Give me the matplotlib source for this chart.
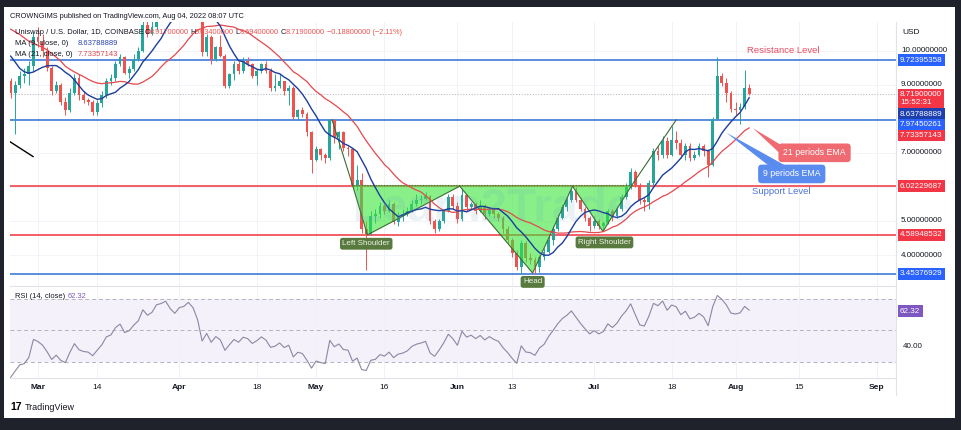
import numpy as np
import pandas as pd
import matplotlib
matplotlib.use('Agg')
import matplotlib.pyplot as plt
import matplotlib.dates as mdates
from matplotlib.patches import Rectangle, Polygon
from matplotlib.lines import Line2D

plt.rcParams['font.family'] = ['Liberation Sans', 'DejaVu Sans']

# ---------------------------------------------------------------------
# Data (UNI/USD daily, Coinbase)
# ---------------------------------------------------------------------

# closes before the first visible candle, only used to warm up MA / RSI
warmup_close = [11.00, 10.60, 10.90, 11.40, 11.70, 11.50, 11.60, 11.30, 11.00, 11.10,
                11.20, 10.90, 11.45, 10.60, 10.90, 10.20, 9.90, 10.10, 9.60, 9.40, 9.10]

first_open = 9.10

close_feb = [8.75, 9.00, 9.25, 9.30, 9.55, 10.40]
close_mar = [10.25, 10.00, 9.50, 8.80, 9.00, 8.50, 8.27, 8.75, 9.20, 8.70,
             8.55, 8.50, 8.20, 8.45, 8.70, 9.10, 9.20, 9.60, 9.80, 9.35,
             9.45, 9.75, 10.00, 10.75, 10.50, 10.70, 11.30, 11.40, 11.60, 11.30, 11.10]
close_apr = [11.50, 11.60, 11.90, 11.70, 11.20, 9.95, 10.40, 9.75, 10.10, 9.85,
             8.97, 9.30, 9.62, 9.40, 9.70, 9.60, 9.25, 9.40, 9.60, 9.40,
             8.90, 8.95, 9.10, 8.80, 8.90, 8.05, 8.25, 8.15, 7.60, 6.80]
close_may = [7.10, 6.95, 6.85, 7.95, 7.45, 7.60, 7.15, 7.10, 6.05, 6.20,
             4.75, 4.62, 5.15, 5.20, 5.45, 5.30, 5.50, 4.98, 5.15, 5.20,
             5.30, 5.50, 5.60, 5.65, 5.72, 5.00, 4.75, 5.00, 5.30, 5.70, 5.45]
close_jun = [5.05, 5.75, 5.40, 5.50, 5.30, 5.45, 5.20, 5.35, 5.20, 5.10,
             4.75, 4.45, 4.05, 3.65, 4.35, 3.90, 3.85, 3.65, 3.95, 4.10,
             4.45, 4.75, 5.10, 5.40, 5.60, 5.88, 5.62, 5.35, 5.10, 4.85]
close_jul = [5.00, 4.85, 4.95, 5.30, 5.15, 5.35, 5.70, 6.00, 6.45, 6.05,
             5.60, 5.55, 6.10, 7.05, 6.95, 7.35, 6.95, 7.38, 7.30, 6.95,
             7.20, 6.85, 6.95, 7.20, 7.05, 6.65, 8.00, 9.25, 9.05, 8.75, 8.30]
close_aug = [8.25, 8.35, 8.907, 8.719]

high_feb = [9.20, 9.10, 9.40, 9.50, 9.70, 10.55]
high_mar = [10.70, 10.50, 10.10, 9.55, 9.10, 9.05, 8.65, 8.90, 9.30, 9.30,
            8.80, 8.60, 8.55, 8.55, 8.80, 9.20, 9.30, 9.70, 9.90, 9.85,
            9.55, 9.90, 10.10, 10.90, 11.00, 10.90, 11.50, 11.90, 11.90, 11.70, 11.60]
high_apr = [11.70, 12.00, 12.10, 12.00, 11.80, 11.25, 10.50, 10.45, 10.15, 10.45,
            9.90, 9.35, 9.70, 9.70, 9.80, 9.80, 9.65, 9.45, 9.65, 9.70,
            9.50, 9.30, 9.30, 9.10, 9.00, 8.95, 8.30, 8.35, 8.20, 7.65]
high_may = [7.20, 7.15, 7.00, 8.00, 8.00, 7.65, 7.65, 7.20, 7.15, 6.65,
            6.40, 5.00, 5.30, 5.35, 5.55, 5.50, 5.60, 5.55, 5.25, 5.35,
            5.40, 5.60, 5.80, 5.75, 5.85, 5.75, 5.05, 5.05, 5.35, 5.80, 5.80]
high_jun = [5.55, 5.95, 5.80, 5.55, 5.55, 5.60, 5.50, 5.40, 5.40, 5.25,
            5.15, 4.85, 4.50, 4.15, 4.45, 4.40, 4.05, 3.95, 4.00, 4.20,
            4.55, 4.85, 5.20, 5.50, 5.70, 5.95, 6.00, 5.70, 5.40, 5.15]
high_jul = [5.15, 5.05, 5.00, 5.35, 5.35, 5.45, 5.80, 6.10, 6.55, 6.50,
            6.10, 5.70, 6.20, 7.15, 7.20, 7.50, 7.45, 7.80, 7.65, 7.40,
            7.30, 7.30, 7.05, 7.30, 7.25, 7.10, 8.05, 9.82, 9.35, 9.20, 8.80]
high_aug = [8.50, 8.45, 9.42, 9.03]

low_feb = [8.60, 7.55, 8.90, 9.05, 9.00, 9.40]
low_mar = [10.10, 9.80, 9.40, 8.70, 8.75, 8.40, 8.10, 8.20, 8.70, 8.55,
           8.45, 8.40, 8.10, 8.10, 8.35, 8.60, 9.00, 9.10, 9.55, 9.30,
           9.20, 9.40, 9.70, 9.95, 10.40, 10.45, 10.60, 11.10, 11.20, 11.10, 10.95]
low_apr = [10.95, 11.30, 11.40, 11.20, 11.00, 9.85, 9.85, 9.60, 9.70, 9.80,
           8.90, 8.90, 9.15, 9.30, 9.35, 9.55, 9.20, 9.00, 9.35, 9.35,
           8.80, 8.80, 8.90, 8.70, 8.40, 8.00, 7.95, 8.05, 7.50, 6.41]
low_may = [6.75, 6.80, 6.70, 6.80, 7.30, 7.10, 7.05, 6.90, 5.95, 5.90,
           4.65, 3.56, 4.60, 4.95, 5.10, 5.20, 5.25, 4.90, 4.85, 5.00,
           5.15, 5.25, 5.45, 5.50, 5.60, 4.90, 4.65, 4.70, 4.95, 5.25, 5.35]
low_jun = [4.95, 5.00, 5.30, 5.35, 5.20, 5.25, 5.05, 5.15, 5.10, 5.00,
           4.65, 4.35, 3.95, 3.55, 3.45, 3.80, 3.75, 3.45, 3.50, 3.85,
           4.05, 4.30, 4.70, 5.05, 5.30, 5.55, 5.55, 5.30, 5.00, 4.70]
low_jul = [4.80, 4.75, 4.70, 4.90, 5.00, 5.10, 5.30, 5.65, 5.95, 6.00,
           5.50, 5.30, 5.35, 6.05, 6.80, 6.85, 6.85, 6.90, 7.10, 6.85,
           6.80, 6.75, 6.80, 6.90, 6.90, 6.30, 6.60, 7.95, 8.95, 8.50, 8.20]
low_aug = [8.10, 7.85, 8.30, 8.694]

# horizontal levels drawn on the chart
level_values = [9.72395358, 7.97450261, 6.02229687, 4.58948532, 3.45376929]
level_colors = ['#2f6fd6', '#2f6fd6', '#f0313f', '#f0313f', '#2f6fd6']

# inverse head & shoulders outline
pattern_dates = ['2022-05-09 00:00', '2022-05-12 06:00', '2022-06-01 12:00', '2022-06-17 12:00',
                 '2022-06-26 06:00', '2022-07-02 22:00', '2022-07-09 06:00']
pattern_prices = [6.05, 4.59, 6.02, 3.47, 6.02, 4.69, 6.05]
lead_in = (['2022-05-04 12:00', '2022-05-09 00:00'], [7.97, 6.05])
lead_out = (['2022-07-09 06:00', '2022-07-19 00:00'], [6.05, 7.97])
black_line = (['2022-02-22 22:00', '2022-02-27 22:00'], [7.32, 6.89])

price_ticks = [10, 9, 7, 5, 4]
date_ticks = ['2022-03-01', '2022-03-14', '2022-04-01', '2022-04-18', '2022-05-01',
              '2022-05-16', '2022-06-01', '2022-06-13', '2022-07-01', '2022-07-18',
              '2022-08-01', '2022-08-15', '2022-09-01']
date_labels = ['Mar', '14', 'Apr', '18', 'May', '16', 'Jun', '13', 'Jul', '18',
               'Aug', '15', 'Sep']

ma9_last = 8.63788889
ma21_last = 7.73357143
rsi_last = 62.32

# ---------------------------------------------------------------------


def dnum(s):
    return mdates.date2num(pd.Timestamp(s))


def dnums(lst):
    return np.array([dnum(s) for s in lst])


close = np.array(close_feb + close_mar + close_apr + close_may + close_jun + close_jul + close_aug)
high = np.array(high_feb + high_mar + high_apr + high_may + high_jun + high_jul + high_aug)
low = np.array(low_feb + low_mar + low_apr + low_may + low_jun + low_jul + low_aug)
open_ = np.concatenate([[first_open], close[:-1]])
high = np.maximum(high, np.maximum(open_, close))
low = np.minimum(low, np.minimum(open_, close))

dates = pd.date_range('2022-02-23', periods=len(close), freq='D')
x = mdates.date2num(dates)

allc = pd.Series(warmup_close + list(close))
nw = len(warmup_close)
ma9 = allc.rolling(9).mean().iloc[nw:].values
ma21 = allc.rolling(21).mean().iloc[nw:].values

delta = allc.diff()
gain = delta.clip(lower=0).ewm(alpha=1 / 14, adjust=False).mean()
loss = (-delta.clip(upper=0)).ewm(alpha=1 / 14, adjust=False).mean()
rsi = (100 - 100 / (1 + gain / loss)).iloc[nw:].values

W, H = 961, 430
UP, DOWN = '#26a69a', '#ef5350'
TXT = '#131722'


def fy(py):
    return 1 - py / H


fig = plt.figure(figsize=(W / 100, H / 100), dpi=100, facecolor='#1f222b')
fig.add_artist(Rectangle((4 / W, fy(418)), 951 / W, 411 / H, transform=fig.transFigure,
                         fc='white', ec='none', zorder=0))

ax = fig.add_axes([10 / W, fy(286), 886 / W, 264 / H])
rx = fig.add_axes([10 / W, fy(378), 886 / W, 90 / H], sharex=ax)

day0 = dnum('2022-03-01')
ax.set_xlim(day0 - 6.14, day0 + 188.2)
ax.set_ylim(3.09, 10.84)

# candles
cols = np.where(close >= open_, UP, DOWN)
ax.vlines(x, low, high, colors=cols, lw=0.7, zorder=3)
ax.bar(x, np.maximum(np.abs(close - open_), 0.015), bottom=np.minimum(open_, close),
       width=0.62, color=cols, lw=0, zorder=3)

# levels + last price line
for v, c in zip(level_values, level_colors):
    ax.axhline(v, color=c, lw=1.1, zorder=2)
ax.axhline(close[-1], color='#b8bcc6', lw=0.8, ls=(0, (1, 1.5)), zorder=2)

# pattern
pdn = dnums(pattern_dates)
ax.fill(pdn, pattern_prices, color='#3ae63a', alpha=0.6, lw=0, zorder=4)
ax.plot(pdn, pattern_prices, color='#3c6b33', lw=0.8, zorder=4)
ax.plot([pdn[0], pdn[-1]], [pattern_prices[0], pattern_prices[-1]], color='#3c6b33',
        lw=0.8, ls=(0, (1, 1.5)), zorder=4)
for seg in (lead_in, lead_out):
    ax.plot(dnums(seg[0]), seg[1], color='#3c6b33', lw=0.8, zorder=4)
ax.plot(dnums(black_line[0]), black_line[1], color='black', lw=1.0, zorder=4)

# moving averages
ax.plot(x, ma21, color='#e5484d', lw=0.9, zorder=5)
ax.plot(x, ma9, color='#1c3d9c', lw=1.0, zorder=5)

# watermark
ax.text(day0 + 100, 5.35, 'Learn2Trade', fontsize=34, color='#6a9cc0', alpha=0.13,
        ha='center', va='center', fontweight='bold', zorder=6)

# pattern labels
for s, p, t in [('2022-05-12 00:00', 4.33, 'Left Shoulder'), ('2022-06-17 12:00', 3.21, 'Head'),
                ('2022-07-03 06:00', 4.37, 'Right Shoulder')]:
    ax.text(dnum(s), p, t, fontsize=5.8, color='#eef3e6', ha='center', va='center', zorder=7,
            bbox=dict(boxstyle='round,pad=0.3,rounding_size=0.3', fc='#587a3e', ec='none'))

# callouts
ax.text(dnum('2022-08-11 12:00'), 10.0, 'Resistance Level', fontsize=6.8, color='#ee4a63',
        ha='center', va='center', zorder=7)
ax.text(dnum('2022-08-11 00:00'), 5.86, 'Support Level', fontsize=6.8, color='#4d72d8',
        ha='center', va='center', zorder=7)

red_wedge = [(dnum('2022-08-04 20:00'), 7.72), (dnum('2022-08-12 00:00'), 7.15),
             (dnum('2022-08-11 00:00'), 6.95)]
blue_wedge = [(dnum('2022-07-30 00:00'), 7.59), (dnum('2022-08-08 12:00'), 6.6),
              (dnum('2022-08-12 00:00'), 6.62)]
ax.add_patch(Polygon(red_wedge, closed=True, fc='#f06a72', ec='none', zorder=7))
ax.add_patch(Polygon(blue_wedge, closed=True, fc='#5a8bef', ec='none', zorder=7))
ax.text(dnum('2022-08-18 08:00'), 7.0, '21 periods EMA', fontsize=6.3, color='white',
        ha='center', va='center', zorder=8,
        bbox=dict(boxstyle='round,pad=0.55,rounding_size=0.4', fc='#f06a72', ec='none'))
ax.text(dnum('2022-08-13 08:00'), 6.38, '9 periods EMA', fontsize=6.3, color='white',
        ha='center', va='center', zorder=8,
        bbox=dict(boxstyle='round,pad=0.55,rounding_size=0.4', fc='#5a8bef', ec='none'))

# axes styling
for a in (ax, rx):
    for sp in a.spines.values():
        sp.set_visible(False)
    a.grid(axis='x', color='#f0f2f7', lw=0.7, zorder=0)
    a.set_axisbelow(True)
ax.spines['bottom'].set_visible(True)
ax.spines['bottom'].set_color('#e0e3eb')
rx.spines['bottom'].set_visible(True)
rx.spines['bottom'].set_color('#e0e3eb')
ax.set_yticks(range(4, 11))
ax.grid(axis='y', color='#f3f4f8', lw=0.7)
ax.tick_params(left=False, labelleft=False, bottom=False, labelbottom=False)

# price scale labels
for p in price_ticks:
    ax.annotate(f'{p:.8f}', xy=(1, p), xycoords=('axes fraction', 'data'), xytext=(5, 0),
                textcoords='offset pixels', fontsize=5.8, color=TXT, va='center', ha='left')

right_labels = [(f'{level_values[0]:.8f}', level_values[0], 0, '#2962ff'),
                (f'{close[-1]:.8f}\n15:52:31', close[-1], -4.5, '#f23645'),
                (f'{ma9_last:.8f}', ma9_last, -17, '#1e3fae'),
                (f'{level_values[1]:.8f}', level_values[1], -5, '#2962ff'),
                (f'{ma21_last:.8f}', ma21_last, -7.6, '#f23645'),
                (f'{level_values[2]:.8f}', level_values[2], 0, '#f23645'),
                (f'{level_values[3]:.8f}', level_values[3], 0, '#f23645'),
                (f'{level_values[4]:.8f}', level_values[4], 0, '#2962ff')]
for t, p, off, c in right_labels:
    ax.annotate(t, xy=(1, p), xycoords=('axes fraction', 'data'), xytext=(4, off),
                textcoords='offset pixels', fontsize=5.8, color='white', va='center', ha='left',
                linespacing=1.25, annotation_clip=False, zorder=9,
                bbox=dict(boxstyle='square,pad=0.3', fc=c, ec='none'))

# RSI pane
rx.set_ylim(19.8, 77)
rx.axhspan(30, 70, color='#f4f1fa', lw=0, zorder=0)
for v in (70, 50, 30):
    rx.axhline(v, color='#b2b5be', lw=0.7, ls=(0, (4, 3)), zorder=1)
rx.plot(x, rsi, color='#8d86a3', lw=0.8, zorder=3)
rx.set_yticks([])
rx.tick_params(left=False, length=0, pad=4.5, labelsize=6, labelcolor=TXT)
rx.set_xticks(dnums(date_ticks))
rx.set_xticklabels(date_labels)
for lbl in rx.get_xticklabels():
    if not lbl.get_text().isdigit():
        lbl.set_fontweight('bold')
rx.annotate(f'{rsi_last:.2f}', xy=(1, rsi_last), xycoords=('axes fraction', 'data'), xytext=(4, 0),
            textcoords='offset pixels', fontsize=5.8, color='white', va='center', ha='left',
            annotation_clip=False, bbox=dict(boxstyle='square,pad=0.3', fc='#7e57c2', ec='none'))
rx.annotate('40.00', xy=(1, 40), xycoords=('axes fraction', 'data'), xytext=(7, 0),
            textcoords='offset pixels', fontsize=5.8, color=TXT, va='center', ha='left')

# separator of the price scale
fig.add_artist(Line2D([896 / W, 896 / W], [fy(22), fy(395)], color='#e0e3eb', lw=0.8))

# header texts
fig.text(10 / W, fy(16), 'CROWNGIMS published on TradingView.com, Aug 04, 2022 08:07 UTC',
         fontsize=5.3, color=TXT, va='center')
fig.text(15 / W, fy(33), 'Uniswap / U.S. Dollar, 1D, COINBASE', fontsize=5.4, color=TXT, va='center')
for px_, k, v in [(145, 'O', '8.91700000'), (190, 'H', '9.03400000'), (235.5, 'L', '8.69400000'),
                  (281, 'C', '8.71900000')]:
    fig.text(px_ / W, fy(33), k, fontsize=5.3, color=TXT, va='center')
    fig.text((px_ + 4.6) / W, fy(33), v, fontsize=5.3, color='#ef5350', va='center')
fig.text(327 / W, fy(33), '\u22120.18800000 (\u22122.11%)', fontsize=5.3, color='#ef5350', va='center')
fig.text(15 / W, fy(43.5), 'MA (9, close, 0)', fontsize=5.5, color=TXT, va='center')
fig.text(78 / W, fy(43.5), f'{ma9_last:.8f}', fontsize=5.5, color='#2a43b0', va='center')
fig.text(15 / W, fy(54.5), 'MA (21, close, 0)', fontsize=5.5, color=TXT, va='center')
fig.text(78 / W, fy(54.5), f'{ma21_last:.8f}', fontsize=5.5, color='#e0494f', va='center')
fig.text(902 / W, fy(32), 'USD', fontsize=6, color=TXT, va='center')

fig.text(15 / W, fy(296), 'RSI (14, close)', fontsize=5.4, color=TXT, va='center')
fig.text(68 / W, fy(296), f'{rsi_last:.2f}', fontsize=5.4, color='#7e57c2', va='center')

fig.text(10 / W, fy(407), '17', fontsize=7.5, color='black', fontweight='bold', va='center')
fig.text(25 / W, fy(407), 'TradingView', fontsize=6.5, color=TXT, va='center')

fig.savefig('out.png', dpi=100, facecolor=fig.get_facecolor())
